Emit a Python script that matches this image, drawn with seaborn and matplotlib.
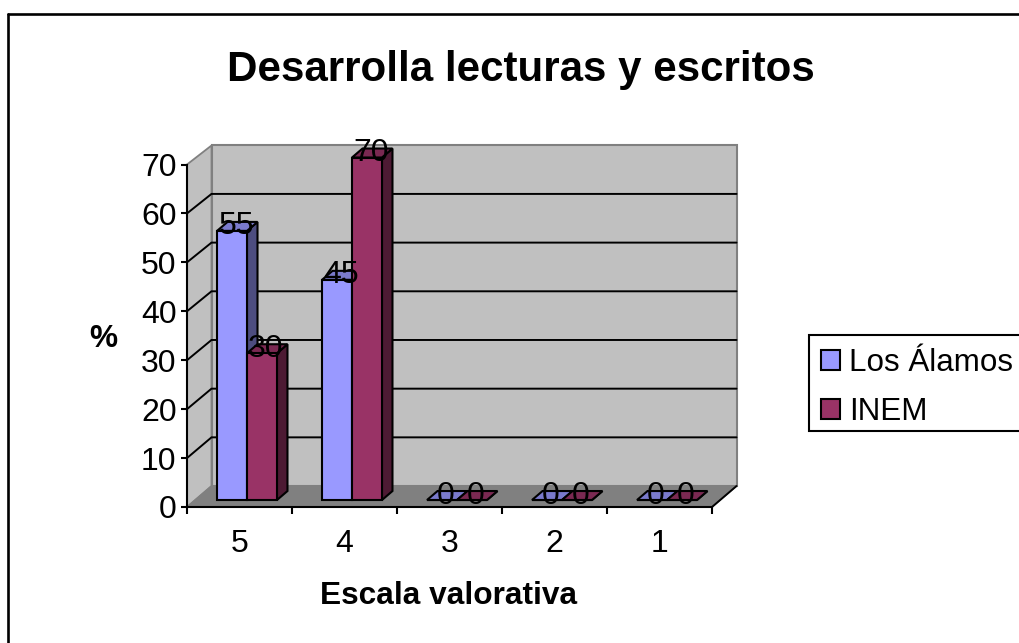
import matplotlib
matplotlib.use("Agg")
import matplotlib.pyplot as plt
import pandas as pd
import seaborn as sns
from matplotlib.lines import Line2D
from matplotlib.patches import Polygon, Rectangle

W, H = 1019, 643

categories = ["5", "4", "3", "2", "1"]
los_alamos = [55, 45, 0, 0, 0]
inem = [30, 70, 0, 0, 0]
series_names = ["Los Álamos", "INEM"]
y_ticks = [0, 10, 20, 30, 40, 50, 60, 70]

front_colors = ["#9999FF", "#993366"]
top_colors = ["#7A7ACC", "#7A2952"]
side_colors = ["#4D4D80", "#4D1A33"]

sns.set_theme(style="white")
plt.rcParams["font.family"] = ["Liberation Sans", "DejaVu Sans"]

df = pd.DataFrame({
    "escala": categories * 2,
    "valor": los_alamos + inem,
    "serie": [series_names[0]] * 5 + [series_names[1]] * 5,
})

fig = plt.figure(figsize=(W / 100, H / 100), dpi=100, facecolor="white")
ax = fig.add_axes([187 / W, 1 - 507 / H, 525 / W, 342.5 / H])
ax.patch.set_alpha(0)

sns.barplot(
    data=df, x="escala", y="valor", hue="serie", order=categories,
    hue_order=series_names, palette=front_colors, width=0.571, gap=0,
    saturation=1, edgecolor="black", linewidth=1.5, ax=ax,
)
ax.set_xlim(-0.5, 4.5)
ax.set_ylim(0, 70)

# depth offsets in data units (1 category = 105 px, 1 % = 4.9 px)
wall_dx, wall_dy = 24.5 / 105, 21 / 4.9
bar_dx, bar_dy = 7.5 / 105, 7 / 4.9
depth_dx, depth_dy = 10.5 / 105, 9 / 4.9

# walls and floor
x0, x1 = -0.5, 4.5
ax.add_patch(Polygon(
    [(x0 + wall_dx, wall_dy), (x1 + wall_dx, wall_dy), (x1 + wall_dx, 70 + wall_dy - 0.4), (x0 + wall_dx, 70 + wall_dy - 0.4)],
    facecolor="#C0C0C0", edgecolor="#808080", linewidth=1.5, clip_on=False, zorder=0.5,
))
ax.add_patch(Polygon(
    [(x0, 0), (x0 + wall_dx, wall_dy), (x0 + wall_dx, 70 + wall_dy - 0.4), (x0, 70)],
    facecolor="#C0C0C0", edgecolor="#808080", linewidth=1.3, clip_on=False, zorder=0.5,
))
ax.add_patch(Polygon(
    [(x0, 0), (x1, 0), (x1 + wall_dx, wall_dy), (x0 + wall_dx, wall_dy)],
    facecolor="#808080", edgecolor="#808080", linewidth=1, clip_on=False, zorder=0.6,
))
ax.plot([x1, x1 + wall_dx], [0, wall_dy], color="black", lw=1.4, clip_on=False, zorder=0.7)

# gridlines run along the side wall and across the back wall
for t in y_ticks[1:]:
    if t < 70:
        yb = t * 0.995 + wall_dy
        ax.plot([x0, x0 + wall_dx, x1 + wall_dx], [t, yb, yb], color="black", lw=1.4,
                clip_on=False, zorder=0.8, solid_joinstyle="miter")

# bars: move front faces in depth and add top and side faces
z = 3.0
for s, container in enumerate(ax.containers):
    for bar in container:
        bx = bar.get_x() + bar_dx
        bw = bar.get_width()
        bh = bar.get_height()
        bar.set_x(bx)
        bar.set_y(bar_dy)
        bar.set_clip_on(False)
        top = bar_dy + bh
        ax.add_patch(Polygon(
            [(bx + bw, bar_dy), (bx + bw + depth_dx, bar_dy + depth_dy), (bx + bw + depth_dx, top + depth_dy), (bx + bw, top)],
            facecolor=side_colors[s], edgecolor="black", linewidth=1.5, clip_on=False, zorder=z,
        ))
        ax.add_patch(Polygon(
            [(bx, top), (bx + bw, top), (bx + bw + depth_dx, top + depth_dy), (bx + depth_dx, top + depth_dy)],
            facecolor=top_colors[s], edgecolor="black", linewidth=1.5, clip_on=False, zorder=z,
        ))
        bar.set_zorder(z + 0.1)
        ax.text(bx + bw / 2 + 4 / 105, top + 4.5 / 4.9, f"{int(bh)}", ha="center", va="center",
                fontsize=23, color="black", zorder=10, clip_on=False)
    z += 1

# axes
sns.despine(ax=ax, top=True, right=True)
for side in ["left", "bottom"]:
    ax.spines[side].set_color("black")
    ax.spines[side].set_linewidth(1.5)
    ax.spines[side].set_zorder(2)
ax.set_yticks(y_ticks)
ax.tick_params(axis="y", length=4.5, width=1.5, color="black", labelsize=23, labelcolor="black", pad=3, left=True)
ax.set_xticks(range(5))
ax.set_xticklabels(categories)
ax.tick_params(axis="x", which="major", length=0, labelsize=23, labelcolor="black", pad=15.5)
ax.set_xticks([i - 0.5 for i in range(6)], minor=True)
ax.tick_params(axis="x", which="minor", length=5, width=1.5, color="black", bottom=True)

ax.set_xlabel("")
ax.set_ylabel("")
bold = dict(fontweight="bold", color="black", ha="center", va="center")
fig.text(449 / W, 1 - 596 / H, "Escala valorativa", fontsize=22.8, **bold)
fig.text(103 / W, 1 - 339 / H, "%", fontsize=22.8, **bold)
fig.text(521 / W, 1 - 70 / H, "Desarrolla lecturas y escritos", fontsize=30.3, **bold)

# legend box runs past the right edge of the picture, so it is drawn on its own
fig.add_artist(Rectangle(
    (808.5 / W, 1 - 431 / H), 260 / W, 96 / H, transform=fig.transFigure,
    facecolor="white", edgecolor="black", linewidth=1.5, zorder=5,
))
sns.move_legend(
    ax, "upper left", bbox_to_anchor=(821 / W, 1 - 348 / H), bbox_transform=fig.transFigure,
    title=None, frameon=False, fontsize=22.6, borderaxespad=0, borderpad=0,
    handlelength=0.6, handleheight=0.6, handletextpad=0.3, labelspacing=0.62, labelcolor="black",
)
ax.get_legend().set_zorder(20)
ax.set_zorder(6)

# chart area border: only left and top fall inside the picture
fig.add_artist(Line2D([8 / W, 8 / W], [0, 1 - 14 / H], color="black", lw=1.9))
fig.add_artist(Line2D([8 / W, 1], [1 - 14 / H, 1 - 14 / H], color="black", lw=1.9))

fig.savefig("out.png", dpi=100, facecolor="white")
